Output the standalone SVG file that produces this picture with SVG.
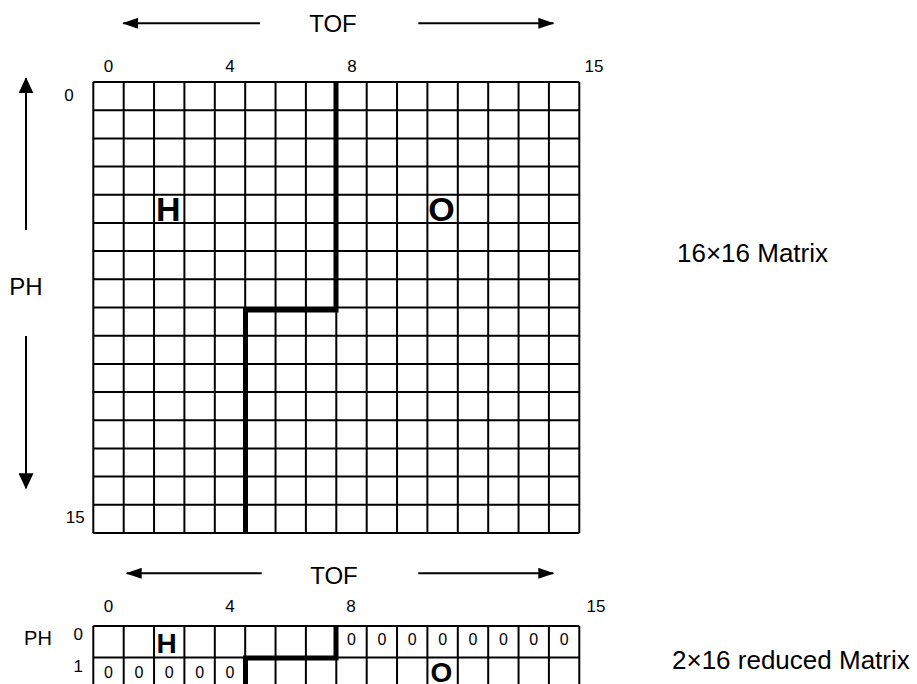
<svg xmlns="http://www.w3.org/2000/svg" width="917" height="684" viewBox="0 0 917 684">
<style>
.t{font-family:"Liberation Sans",Arial,sans-serif;fill:#000}
.lbl{font-size:24px}
.num{font-size:17px;text-anchor:middle}
.z{font-size:16px;text-anchor:middle}
.big{font-size:34px;font-weight:bold;text-anchor:middle}
.sbig{font-size:28px;font-weight:bold;text-anchor:middle}
.grid{fill:none;stroke:#000;stroke-width:2}
.thick{fill:none;stroke:#000;stroke-width:5;stroke-linejoin:miter}
.arr{stroke:#000;stroke-width:2;fill:none}
</style>
<defs>
<marker id="ah" markerUnits="userSpaceOnUse" markerWidth="16" markerHeight="11" refX="15" refY="5.5" orient="auto">
<path d="M0,0 L16,5.5 L0,11 z" fill="#000"/>
</marker>
<marker id="av" markerUnits="userSpaceOnUse" markerWidth="16" markerHeight="15" refX="15" refY="7.5" orient="auto">
<path d="M0,0 L16,7.5 L0,15 z" fill="#000"/>
</marker>
</defs>

<g id="connectors">
<line class="arr" x1="260" y1="23.3" x2="123.3" y2="23.3" marker-end="url(#ah)"/>
<line class="arr" x1="418.3" y1="23.3" x2="553.3" y2="23.3" marker-end="url(#ah)"/>
<line class="arr" x1="261.7" y1="573.3" x2="126.7" y2="573.3" marker-end="url(#ah)"/>
<line class="arr" x1="418.3" y1="573.3" x2="553.3" y2="573.3" marker-end="url(#ah)"/>
<line class="arr" x1="26" y1="230" x2="26" y2="78.3" marker-end="url(#av)"/>
<line class="arr" x1="26" y1="336" x2="26" y2="488.3" marker-end="url(#av)"/>
</g>

<g id="labels">
<text class="t lbl" x="333" y="31.5" text-anchor="middle">TOF</text>
<text class="t lbl" x="334" y="584" text-anchor="middle">TOF</text>
<text class="t lbl" x="26" y="295" text-anchor="middle">PH</text>
<text class="t lbl" x="38" y="645" text-anchor="middle" style="font-size:20px">PH</text>
<text class="t num" x="108.5" y="71.7">0</text>
<text class="t num" x="230" y="71.7">4</text>
<text class="t num" x="352" y="71.7">8</text>
<text class="t num" x="594" y="71.7">15</text>
<text class="t num" x="69" y="101">0</text>
<text class="t num" x="75.3" y="522.7">15</text>
<text class="t num" x="108.5" y="612">0</text>
<text class="t num" x="230" y="612">4</text>
<text class="t num" x="351" y="612">8</text>
<text class="t num" x="596" y="612">15</text>
<text class="t num" x="78.3" y="640">0</text>
<text class="t num" x="78.3" y="672">1</text>
<text class="t" x="677" y="262" style="font-size:26px">16×16 Matrix</text>
<text class="t" x="672" y="669" style="font-size:26px">2×16 reduced Matrix</text>
</g>

<g id="matrix16">
<path class="grid" d="M93.3,82V533 M123.7,82V533 M154.05,82V533 M184.4,82V533 M214.8,82V533 M245.2,82V533 M275.55,82V533 M305.9,82V533 M336.3,82V533 M366.7,82V533 M397.05,82V533 M427.4,82V533 M457.8,82V533 M488.2,82V533 M518.55,82V533 M548.9,82V533 M579.3,82V533
M93.3,82H579.3 M93.3,110.2H579.3 M93.3,138.4H579.3 M93.3,166.6H579.3 M93.3,194.75H579.3 M93.3,222.9H579.3 M93.3,251.1H579.3 M93.3,279.3H579.3 M93.3,307.5H579.3 M93.3,335.7H579.3 M93.3,363.9H579.3 M93.3,392.1H579.3 M93.3,420.25H579.3 M93.3,448.4H579.3 M93.3,476.6H579.3 M93.3,504.8H579.3 M93.3,533H579.3"/>
<path class="thick" d="M336,82 V310 H245.5 V533"/>
<text class="t big" x="168.3" y="221">H</text>
<text class="t big" x="441.5" y="221">O</text>
</g>

<g id="matrix2x16">
<path class="grid" d="M93.3,626V690 M123.7,626V690 M154.05,626V690 M184.4,626V690 M214.8,626V690 M245.2,626V690 M275.55,626V690 M305.9,626V690 M336.3,626V690 M366.7,626V690 M397.05,626V690 M427.4,626V690 M457.8,626V690 M488.2,626V690 M518.55,626V690 M548.9,626V690 M579.3,626V690
M93.3,626H579.3 M93.3,657.5H579.3 M93.3,689H579.3"/>
<path class="thick" d="M336,626 V658 H245.5 V690"/>
<text class="t sbig" x="166.7" y="653">H</text>
<text class="t sbig" x="441.5" y="682">O</text>
<g id="zeros">
<text class="t z" x="351.5" y="645">0</text>
<text class="t z" x="381.9" y="645">0</text>
<text class="t z" x="412.2" y="645">0</text>
<text class="t z" x="442.6" y="645">0</text>
<text class="t z" x="473" y="645">0</text>
<text class="t z" x="503.4" y="645">0</text>
<text class="t z" x="533.7" y="645">0</text>
<text class="t z" x="564.1" y="645">0</text>
<text class="t z" x="108.5" y="678">0</text>
<text class="t z" x="138.9" y="678">0</text>
<text class="t z" x="169.2" y="678">0</text>
<text class="t z" x="199.6" y="678">0</text>
<text class="t z" x="230" y="678">0</text>
</g>
</g>
</svg>
